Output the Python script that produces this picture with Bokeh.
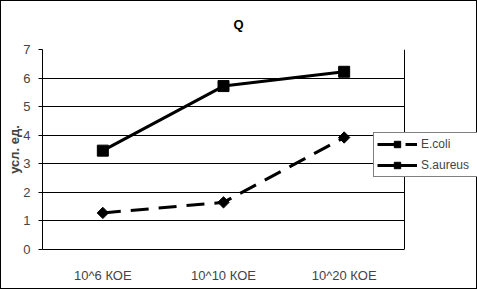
import numpy as np
from bokeh.plotting import figure
from bokeh.models import Range1d, Legend, LegendItem, FixedTicker, Span
from bokeh.embed import file_html
from bokeh.resources import INLINE

categories = ["10^6 КОЕ", "10^10 КОЕ", "10^20 КОЕ"]
ecoli = [1.28, 1.65, 3.92]
saureus = [3.46, 5.72, 6.22]
y_ticks = [0, 1, 2, 3, 4, 5, 6, 7]

FONT = "Liberation Sans"
W, H = 477, 289
FL, FR, FT, FB = 42, 404, 49, 249   # plot-area edges in the page

n = len(categories)
xpos = [i + 0.5 for i in range(n)]          # category centres
x_end = n * (W - FL) / (FR - FL)            # frame runs to the right edge (legend overlaps)

p = figure(width=W, height=H,
           x_range=Range1d(0, x_end), y_range=Range1d(0, 7),
           output_backend="svg", toolbar_location=None,
           min_border_left=FL, min_border_right=0,
           min_border_top=FT, min_border_bottom=H - FB,
           background_fill_color=None, border_fill_color=None)

p.styles = {"background-color": "white", "box-shadow": "inset 0 0 0 1px black"}

p.title.text = "Q"
p.title.align = "left"
p.title.offset = 191
p.title.standoff = 32
p.title.vertical_align = "top"
p.title.text_font = FONT
p.title.text_font_size = "13px"
p.title.text_font_style = "bold"
p.title.text_color = "black"

p.outline_line_color = None

p.xgrid.visible = False
p.ygrid.grid_line_color = "black"
p.ygrid.grid_line_width = 1.2
p.ygrid.cross_bounds = (0, n)
p.yaxis.ticker = FixedTicker(ticks=y_ticks)

p.yaxis.axis_label = "усл. ед."
p.yaxis.axis_label_text_font = FONT
p.yaxis.axis_label_text_font_size = "13px"
p.yaxis.axis_label_text_font_style = "bold"
p.yaxis.axis_label_standoff = -2
p.yaxis.major_label_text_font = FONT
p.yaxis.major_label_text_font_size = "13px"
p.yaxis.major_label_standoff = 8
p.yaxis.major_tick_out = 4
p.yaxis.major_tick_in = 0
p.yaxis.minor_tick_line_color = None
p.yaxis.axis_line_color = "black"
p.yaxis.major_tick_line_color = "black"

p.xaxis.ticker = FixedTicker(ticks=xpos)
p.xaxis.major_label_overrides = {x: c for x, c in zip(xpos, categories)}
p.xaxis.bounds = (0, n)
p.xaxis.major_tick_line_color = None
p.xaxis.minor_tick_line_color = None
p.xaxis.axis_line_color = "black"
p.xaxis.major_label_text_font = FONT
p.xaxis.major_label_text_font_size = "13px"
p.xaxis.major_label_standoff = 12

p.add_layout(Span(location=n, dimension="height", line_color="black", line_width=1))

l1 = p.line(xpos, ecoli, line_color="black", line_width=3, line_dash="18 10")
s1 = p.scatter(xpos, ecoli, marker="square", angle=np.pi / 4, size=8,
               fill_color="black", line_color="black")
l2 = p.line(xpos, saureus, line_color="black", line_width=3)
s2 = p.scatter(xpos, saureus, marker="square", size=11,
               fill_color="black", line_color="black")

legend = Legend(items=[LegendItem(label="E.coli", renderers=[l1, s1]),
                       LegendItem(label="S.aureus", renderers=[l2, s2])],
                location=(331, 72), orientation="vertical",
                border_line_color="black", border_line_width=1,
                background_fill_color="white", background_fill_alpha=1,
                label_text_font=FONT, label_text_font_size="12px",
                glyph_width=40, glyph_height=16, label_height=16, label_width=62,
                spacing=5, padding=3, margin=0, label_standoff=4)
p.add_layout(legend)

open("out.html", "w").write(file_html(p, INLINE))
